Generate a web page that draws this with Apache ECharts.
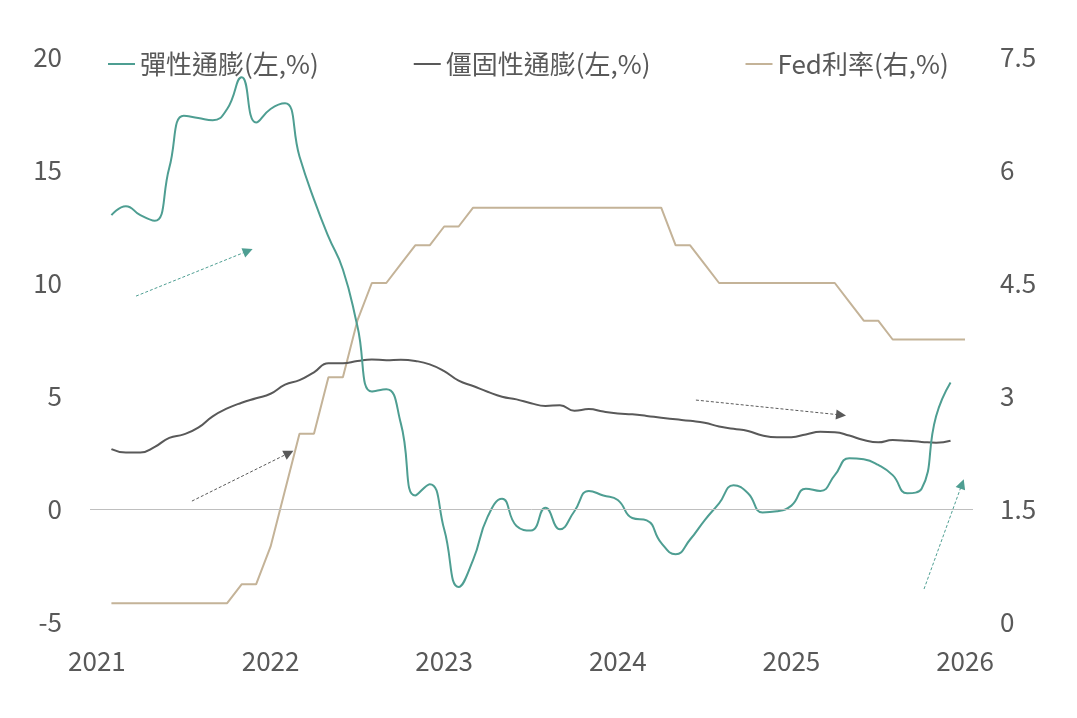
<!DOCTYPE html>
<html>
<head>
<meta charset="utf-8">
<script src="https://cdn.jsdelivr.net/npm/echarts@6/dist/echarts.min.js"></script>
<style>
html, body { margin: 0; padding: 0; background: #fff; }
#chart { width: 1077px; height: 718px; }
</style>
</head>
<body>
<div id="chart"></div>
<script>
/* monthly data, Jan 2021 ~ Dec 2025 (month end) */
var flexCPI = [
    13.0, 13.4, 13.0, 12.75, 15.1, 17.4, 17.3, 17.2, 17.7, 19.1, 17.1, 17.7,
    17.95, 15.6, 13.7, 12.05, 10.6, 8.1, 5.2, 5.3, 3.8, 0.6, 1.1, -0.9,
    -3.45, -2.25, -0.35, 0.45, -0.75, -0.95, 0.05, -0.9, -0.1, 0.8, 0.6, 0.4,
    -0.4, -0.5, -1.5, -2.0, -1.35, -0.5, 0.25, 1.05, 0.7, -0.15, -0.1, 0.15,
    0.9, 0.8, 1.5, 2.25, 2.2, 1.95, 1.5, 0.7, 0.9, 4.1, 5.6
];
var stickyCPI = [
    2.65, 2.5, 2.5, 2.75, 3.15, 3.3, 3.6, 4.1, 4.45, 4.7, 4.9, 5.1,
    5.5, 5.7, 6.05, 6.45, 6.45, 6.55, 6.62, 6.58, 6.6, 6.55, 6.4, 6.1,
    5.68, 5.44, 5.19, 4.97, 4.85, 4.68, 4.56, 4.59, 4.35, 4.42, 4.31, 4.23,
    4.19, 4.12, 4.04, 3.97, 3.9, 3.82, 3.65, 3.55, 3.45, 3.25, 3.17, 3.18,
    3.3, 3.42, 3.4, 3.25, 3.05, 2.95, 3.05, 3.02, 2.97, 2.93, 3.02
];
var fedRate = [
    0.25, 0.25, 0.25, 0.25, 0.25, 0.25, 0.25, 0.25, 0.25, 0.5, 0.5, 1.0,
    1.75, 2.5, 2.5, 3.25, 3.25, 4.0, 4.5, 4.5, 4.75, 5.0, 5.0, 5.25,
    5.25, 5.5, 5.5, 5.5, 5.5, 5.5, 5.5, 5.5, 5.5, 5.5, 5.5, 5.5,
    5.5, 5.5, 5.5, 5.0, 5.0, 4.75, 4.5, 4.5, 4.5, 4.5, 4.5, 4.5,
    4.5, 4.5, 4.5, 4.25, 4.0, 4.0, 3.75, 3.75, 3.75, 3.75, 3.75, 3.75
];
var yearTicks = [2021, 2022, 2023, 2024, 2025, 2026];
var leftTicks = [-5, 0, 5, 10, 15, 20];
var rightTicks = [0, 1.5, 3, 4.5, 6, 7.5];
var names = ['彈性通膨(左,%)', '僵固性通膨(左,%)', 'Fed利率(右,%)'];

/* 箭頭註記 [起點, 終點] (年, 左軸值) */
var arrows = [
    [[2021.225, 9.42], [2021.87, 11.42], '#4E9E92'],
    [[2021.547, 0.35], [2022.106, 2.48], '#595959'],
    [[2024.45, 4.82], [2025.286, 4.16], '#595959'],
    [[2025.764, -3.54], [2025.983, 1.11], '#4E9E92']
];

function toPairs(vals) {
    var arr = [];
    for (var i = 0; i < vals.length; i++) {
        arr.push([2021 + (i + 1) / 12, vals[i]]);
    }
    return arr;
}

var FONT = '"Noto Sans CJK TC", "Noto Sans", sans-serif';
var TXT = '#595959';

var arrowData = arrows.map(function (a) {
    return [
        { coord: a[0], lineStyle: { color: a[2] }, itemStyle: { color: a[2] } },
        { coord: a[1], lineStyle: { color: a[2] }, itemStyle: { color: a[2] } }
    ];
});

var myChart = echarts.init(document.getElementById('chart'));
var option = {
    animation: false,
    textStyle: { fontFamily: FONT },
    grid: { left: 90, right: 104, top: 57, bottom: 96 },
    legend: {
        left: 103,
        top: 46,
        itemGap: 95,
        itemWidth: 27,
        itemHeight: 2,
        icon: 'rect',
        textStyle: { fontSize: 26, color: TXT, fontFamily: FONT },
        data: names
    },
    xAxis: {
        type: 'value',
        min: 2020.96,
        max: 2026.046,
        axisLine: { show: false },
        axisTick: { show: false },
        splitLine: { show: false },
        axisLabel: {
            customValues: yearTicks,
            margin: 26,
            fontSize: 26,
            color: TXT,
            fontFamily: FONT,
            formatter: function (v) { return String(Math.round(v)); }
        }
    },
    yAxis: [
        {
            type: 'value',
            min: -5,
            max: 20,
            interval: 5,
            axisLine: { show: false },
            axisTick: { show: false },
            splitLine: { show: false },
            axisLabel: {
                customValues: leftTicks,
                margin: 28, fontSize: 26, color: TXT, fontFamily: FONT
            }
        },
        {
            type: 'value',
            min: 0,
            max: 7.5,
            interval: 1.5,
            axisLine: { show: false },
            axisTick: { show: false },
            splitLine: { show: false },
            axisLabel: {
                customValues: rightTicks,
                margin: 27, fontSize: 26, color: TXT, fontFamily: FONT
            }
        }
    ],
    series: [
        {
            name: names[0],
            type: 'line',
            yAxisIndex: 0,
            data: toPairs(flexCPI),
            smooth: 0.5,
            showSymbol: false,
            z: 4,
            lineStyle: { color: '#4E9E92', width: 2 },
            itemStyle: { color: '#4E9E92' },
            markLine: {
                silent: true,
                symbol: ['none', 'triangle'],
                symbolSize: [10, 10],
                label: { show: false },
                lineStyle: { type: [3, 2], width: 1 },
                data: arrowData
            }
        },
        {
            name: names[1],
            type: 'line',
            yAxisIndex: 0,
            data: toPairs(stickyCPI),
            smooth: 0.5,
            showSymbol: false,
            z: 3,
            lineStyle: { color: '#595959', width: 2 },
            itemStyle: { color: '#595959' },
            markLine: {
                silent: true,
                symbol: 'none',
                label: { show: false },
                lineStyle: { color: '#BFBFBF', type: 'solid', width: 1 },
                data: [{ yAxis: 0 }]
            }
        },
        {
            name: names[2],
            type: 'line',
            yAxisIndex: 1,
            data: toPairs(fedRate),
            showSymbol: false,
            z: 2,
            lineStyle: { color: '#C4B398', width: 2 },
            itemStyle: { color: '#C4B398' }
        }
    ]
};
myChart.setOption(option);
</script>
</body>
</html>
